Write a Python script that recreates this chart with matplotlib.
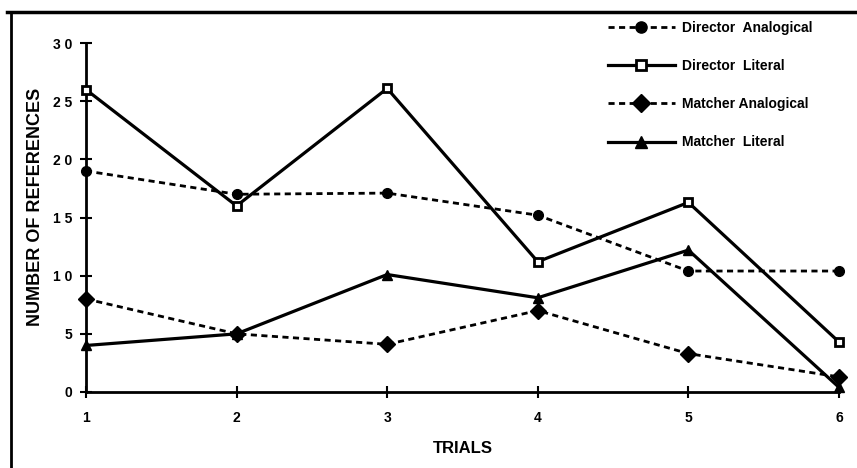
import numpy as np
import matplotlib
matplotlib.use('Agg')
import matplotlib.pyplot as plt
from matplotlib.lines import Line2D

plt.rcParams['font.family'] = ['Liberation Sans Narrow', 'Liberation Sans', 'DejaVu Sans']
plt.rcParams['font.weight'] = 'bold'

trials = [1, 2, 3, 4, 5, 6]
director_analogical = [19, 17, 17.1, 15.2, 10.4, 10.4]
director_literal = [26, 16, 26.1, 11.2, 16.3, 4.3]
matcher_analogical = [8, 5, 4.1, 7, 3.3, 1.3]
matcher_literal = [4, 5, 10.1, 8.1, 12.2, 0.4]

y_ticks = [0, 5, 10, 15, 20, 25, 30]
y_tick_labels = ['0', '5', '1 0', '1 5', '2 0', '2 5', '3 0']
x_tick_labels = ['1', '2', '3', '4', '5', '6']

fig = plt.figure(figsize=(8.57, 4.68), dpi=100)
ax = fig.add_axes([0.1003, 0.1624, 0.8787, 0.7456])

dotted = (0, (2.2, 1.6))
ax.plot(trials, director_analogical, linestyle=dotted, color='black', lw=2,
        marker='o', markersize=7, label='Director  Analogical', clip_on=False, zorder=3)
ax.plot(trials, director_literal, linestyle='-', color='black', lw=2.3,
        marker='s', markersize=6, markerfacecolor='white', markeredgewidth=2,
        label='Director  Literal', clip_on=False, zorder=3)
ax.plot(trials, matcher_analogical, linestyle=dotted, color='black', lw=2,
        marker='D', markersize=8, label='Matcher Analogical', clip_on=False, zorder=3)
ax.plot(trials, matcher_literal, linestyle='-', color='black', lw=2.3,
        marker='^', markersize=7, label='Matcher  Literal', clip_on=False, zorder=3)

ax.set_xlim(1, 6)
ax.set_ylim(0, 30)
ax.set_xticks(trials)
ax.set_xticklabels(x_tick_labels)
ax.set_yticks(y_ticks)
ax.set_yticklabels(y_tick_labels)
for s in ['top', 'right']:
    ax.spines[s].set_visible(False)
for s in ['left', 'bottom']:
    ax.spines[s].set_linewidth(2)
ax.tick_params(axis='both', direction='inout', length=8, width=1.5, labelsize=10)
ax.tick_params(axis='x', pad=10)
ax.tick_params(axis='y', pad=6)

ax.set_xlabel('TRIALS', fontsize=12, fontweight='bold')
ax.set_ylabel('NUMBER OF REFERENCES', fontsize=13, fontweight='bold')
ax.xaxis.set_label_coords(0.5, -0.14)
ax.yaxis.set_label_coords(-0.056, 0.53)

ax.legend(loc='upper left', bbox_to_anchor=(0.703, 0.968), bbox_transform=fig.transFigure,
          frameon=False, fontsize=10, handlelength=4.8, handletextpad=0.5,
          labelspacing=1.75, borderaxespad=0, markerscale=1.15)

# outer frame lines
fig.add_artist(Line2D([0.008, 1.0], [0.974, 0.974], color='black', lw=2.5))
fig.add_artist(Line2D([0.013, 0.013], [0.0, 0.974], color='black', lw=2))

fig.savefig('out.png', dpi=100)
